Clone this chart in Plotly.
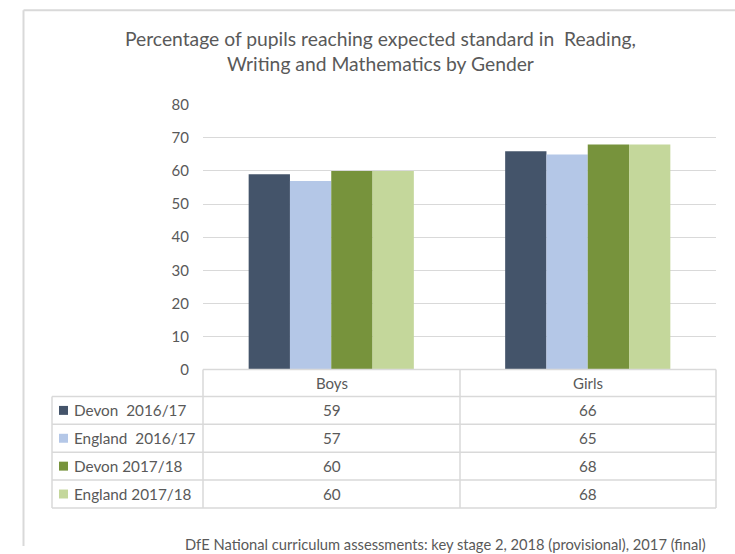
import plotly.graph_objects as go

categories = ["Boys", "Girls"]
series_names = ["Devon  2016/17", "England  2016/17", "Devon 2017/18", "England 2017/18"]
devon_1617 = [59, 66]
england_1617 = [57, 65]
devon_1718 = [60, 68]
england_1718 = [60, 68]
series_values = [devon_1617, england_1617, devon_1718, england_1718]
colors = ["#44546A", "#B4C7E7", "#77933C", "#C4D79B"]
y_ticks = [0, 10, 20, 30, 40, 50, 60, 70, 80]

W, H = 735, 554
FONT = "Lato, Carlito, 'Liberation Sans', sans-serif"
TXT = "#595959"
GRID = "#D9D9D9"

def px(x):
    return x / W

def py(y):
    # map a target pixel row to paper coordinate (compensating capture offset/scale)
    yp = y * 570.0 / 554.0 - 8.0
    return min(1.0, max(0.0, 1 - yp / H))

# plot area in pixels
PL, PR, PT, PB = 203, 716, 103, 369
# table geometry
TL = 52
COL = 460
rows_y = [369, 396, 424, 452, 480, 508]

fig = go.Figure()
for name, vals, c in zip(series_names, series_values, colors):
    fig.add_trace(go.Bar(x=categories, y=vals, name=name, marker=dict(color=c, line=dict(width=0)),
                         showlegend=False, hoverinfo="x+y+name"))

fig.update_layout(
    width=W, height=H,
    margin=dict(l=0, r=0, t=0, b=0, pad=0),
    paper_bgcolor="white", plot_bgcolor="white",
    barmode="group", bargap=0.356, bargroupgap=0,
    font=dict(family=FONT, color=TXT),
    xaxis=dict(domain=[px(PL), px(PR)], showticklabels=False, showgrid=False, zeroline=False,
               showline=False, ticks="", range=[-0.5, 1.5]),
    yaxis=dict(domain=[py(PB), py(PT)], range=[0, 80], tickvals=y_ticks, showgrid=True,
               gridcolor=GRID, gridwidth=1, zeroline=False, showline=False, ticks="",
               ticklabelstandoff=13, tickfont=dict(size=15, color=TXT, family=FONT)),
)

shapes = []
line = dict(color=GRID, width=1.5)
# outer chart border
shapes.append(dict(type="line", xref="paper", yref="paper", x0=px(23.5), x1=1, y0=py(8), y1=py(8),
                   line=dict(color=GRID, width=2)))
shapes.append(dict(type="line", xref="paper", yref="paper", x0=px(23.5), x1=px(23.5), y0=py(8), y1=0,
                   line=dict(color=GRID, width=2)))
# table horizontal lines
for i, yy in enumerate(rows_y):
    x0 = PL if i == 0 else TL
    shapes.append(dict(type="line", xref="paper", yref="paper", x0=px(x0), x1=px(PR), y0=py(yy), y1=py(yy), line=line))
# table vertical lines
for xx in [PL, COL, PR]:
    shapes.append(dict(type="line", xref="paper", yref="paper", x0=px(xx), x1=px(xx), y0=py(rows_y[0]), y1=py(rows_y[-1]), line=line))
shapes.append(dict(type="line", xref="paper", yref="paper", x0=px(TL), x1=px(TL), y0=py(rows_y[1]), y1=py(rows_y[-1]), line=line))

annotations = []
# title
annotations.append(dict(xref="paper", yref="paper", x=px(380), y=py(49), xanchor="center", yanchor="middle",
                        text="Percentage of pupils reaching expected standard in  Reading,<br>Writing and Mathematics by Gender",
                        showarrow=False, font=dict(size=19.3, color=TXT, family=FONT), align="center"))
# header row
col_centers = [(PL + COL) / 2, (COL + PR) / 2]
for cx, cat in zip(col_centers, categories):
    annotations.append(dict(xref="paper", yref="paper", x=px(cx), y=py((rows_y[0] + rows_y[1]) / 2),
                            text=cat, showarrow=False, font=dict(size=15, color=TXT, family=FONT),
                            xanchor="center", yanchor="middle"))
# data rows
for i, (name, vals, c) in enumerate(zip(series_names, series_values, colors)):
    yc = (rows_y[i + 1] + rows_y[i + 2]) / 2
    shapes.append(dict(type="rect", xref="paper", yref="paper", x0=px(59), x1=px(68), y0=py(yc - 4.5), y1=py(yc + 4.5),
                       fillcolor=c, line=dict(width=0)))
    annotations.append(dict(xref="paper", yref="paper", x=px(72), y=py(yc), text=name.replace("  ", "&nbsp; "),
                            showarrow=False, font=dict(size=15.3, color=TXT, family=FONT),
                            xanchor="left", yanchor="middle"))
    for cx, v in zip(col_centers, vals):
        annotations.append(dict(xref="paper", yref="paper", x=px(cx), y=py(yc), text=str(v),
                                showarrow=False, font=dict(size=15.3, color=TXT, family=FONT),
                                xanchor="center", yanchor="middle"))
# footer
annotations.append(dict(xref="paper", yref="paper", x=px(708), y=py(544), xanchor="right", yanchor="middle",
                        text="DfE National curriculum assessments: key stage 2, 2018 (provisional), 2017 (final)",
                        showarrow=False, font=dict(size=14.7, color=TXT, family=FONT)))

fig.update_layout(shapes=shapes, annotations=annotations)
post = ("var s=document.createElement('style');"
        "s.textContent='html,body{margin:0!important;padding:0!important;overflow:hidden!important;}';"
        "document.head.appendChild(s);")
fig.write_html("out.html", config={"displayModeBar": False}, post_script=post)
